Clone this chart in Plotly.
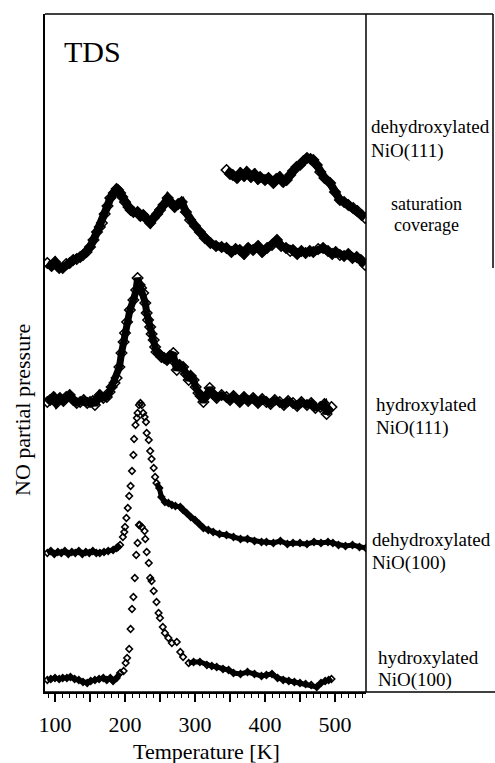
import plotly.graph_objects as go

# ---------------- data ----------------
# Temperature [K] and NO partial pressure (arb. units, curves offset as drawn)
temp_dehyd111 = [345, 350, 354, 360, 365, 370, 374, 380, 385, 390,
                 393, 400, 405, 412, 416, 421, 426, 431, 436, 440,
                 445, 450, 455, 460, 465, 469, 474, 479, 485, 493,
                 500, 507, 513, 519, 526, 532, 538, 543]
no_dehyd111 = [522, 518, 517, 514, 519, 516, 520, 515, 518, 513,
               515, 512, 514, 509, 513, 515, 510, 512, 517, 521,
               525, 527, 531, 534, 533, 532, 527, 520, 514, 509,
               500, 492, 490, 487, 484, 481, 477, 474]

temp_saturation = [89, 95, 100, 106, 111, 116, 121, 126, 131, 136,
                   140, 145, 150, 155, 160, 164, 167, 171, 175, 179,
                   184, 188, 190, 193, 196, 200, 205, 208, 212, 218,
                   222, 226, 231, 236, 241, 246, 250, 255, 261, 266,
                   271, 276, 281, 287, 293, 300, 307, 314, 322, 330,
                   338, 345, 352, 358, 364, 370, 376, 383, 390, 396,
                   403, 410, 417, 423, 430, 436, 440, 446, 452, 458,
                   464, 469, 476, 483, 490, 496, 501, 507, 513, 519,
                   525, 531, 537, 543]
no_saturation = [429, 426, 430, 424, 424, 428, 429, 432, 433, 435,
                 437, 440, 445, 452, 460, 465, 469, 478, 486, 494,
                 499, 503, 502, 499, 495, 490, 485, 482, 480, 480,
                 476, 477, 473, 469, 474, 478, 482, 487, 494, 489,
                 485, 488, 490, 480, 472, 466, 460, 454, 449, 446,
                 445, 444, 440, 443, 442, 438, 444, 442, 446, 440,
                 444, 447, 452, 446, 444, 441, 442, 438, 441, 439,
                 441, 440, 443, 444, 441, 438, 440, 437, 436, 438,
                 434, 435, 432, 427]

temp_hyd111 = [89, 93, 98, 102, 107, 112, 116, 121, 126, 131,
               136, 141, 146, 150, 154, 157, 161, 164, 169, 174,
               178, 181, 185, 188, 192, 195, 198, 200, 203, 207,
               212, 216, 218, 221, 223, 226, 229, 231, 233, 236,
               238, 241, 243, 245, 249, 252, 256, 260, 264, 269,
               271, 274, 278, 283, 287, 291, 294, 298, 301, 305,
               308, 312, 316, 321, 326, 331, 338, 345, 350, 355,
               364, 370, 376, 383, 390, 396, 402, 408, 414, 421,
               427, 433, 440, 446, 452, 460, 466, 472, 479, 485,
               488, 490, 495]
no_hyd111 = [290, 292, 295, 289, 294, 291, 295, 297, 292, 289,
             290, 292, 289, 290, 291, 287, 293, 297, 294, 295,
             300, 305, 309, 314, 325, 339, 350, 359, 370, 382,
             392, 402, 414, 407, 404, 399, 389, 379, 372, 365,
             358, 352, 345, 340, 338, 335, 334, 332, 336, 339,
             330, 322, 327, 325, 318, 312, 316, 312, 305, 299,
             296, 290, 296, 304, 298, 294, 297, 295, 292, 296,
             290, 295, 291, 294, 289, 293, 290, 288, 292, 290,
             287, 291, 289, 286, 290, 287, 289, 284, 285, 288,
             278, 282, 285]

temp_dehyd100 = [89, 94, 99, 104, 109, 114, 119, 124, 129, 134,
                 139, 144, 149, 154, 159, 164, 170, 176, 183, 188,
                 190, 193, 197, 199, 200, 202, 204, 206, 208, 210,
                 212, 213, 215, 217, 218, 220, 222, 224, 226, 228,
                 230, 231, 234, 236, 238, 241, 243, 245, 249, 252,
                 257, 262, 267, 272, 279, 283, 288, 294, 300, 306,
                 312, 319, 326, 335, 345, 355, 365, 375, 385, 395,
                 402, 412, 422, 432, 440, 450, 460, 470, 480, 490,
                 497, 505, 515, 525, 535, 544]
no_dehyd100 = [139, 141, 138, 140, 139, 141, 138, 140, 139, 141,
               138, 140, 139, 141, 139, 139, 140, 141, 142, 144,
               145, 147, 155, 160, 165, 174, 184, 196, 206, 221,
               237, 253, 267, 274, 279, 287, 289, 287, 279, 275,
               270, 259, 252, 241, 233, 224, 215, 209, 204, 195,
               190, 189, 187, 186, 185, 182, 179, 175, 172, 168,
               164, 162, 160, 158, 157, 155, 153, 153, 151, 150,
               150, 149, 151, 148, 149, 149, 148, 150, 149, 150,
               149, 147, 146, 147, 145, 144]

temp_hyd100 = [89, 94, 100, 106, 111, 117, 122, 128, 134, 140,
               146, 151, 157, 163, 169, 174, 179, 183, 188, 193,
               198, 201, 203, 206, 208, 210, 212, 214, 216, 218,
               220, 221, 224, 228, 229, 231, 234, 236, 238, 241,
               245, 248, 250, 254, 257, 262, 267, 274, 279, 283,
               291, 298, 307, 317, 324, 331, 340, 348, 355, 365,
               375, 385, 395, 402, 410, 418, 426, 434, 442, 450,
               458, 466, 474, 480, 486, 491, 495]
no_hyd100 = [12, 13, 14, 13, 14, 14, 15, 13, 12, 10,
             9, 11, 12, 13, 14, 12, 14, 11, 14, 19,
             21, 29, 34, 43, 63, 83, 95, 114, 137, 149,
             167, 167, 165, 161, 153, 140, 129, 114, 111, 101,
             90, 79, 74, 65, 59, 54, 49, 50, 40, 35,
             29, 30, 30, 27, 26, 25, 23, 22, 19, 18,
             20, 18, 16, 17, 18, 14, 12, 11, 10, 9,
             8, 7, 5, 9, 11, 12, 13]

x_major_ticks = [100, 150, 200, 250, 300, 350, 400, 450, 500]
x_major_labels = ["100", "", "200", "", "300", "", "400", "", "500"]

# ---------------- layout helpers ----------------
W, H = 495, 763
PL, PR, PT, PB = 45, 366, 14, 692
X_RANGE = [85.7, 544.3]
Y_RANGE = [0, 678]
SERIF = "Liberation Serif"


def px(xp):
    return (xp - PL) / (PR - PL)


def py(yp):
    return (PB - yp) / (PB - PT)


fig = go.Figure()


def add_curve(t, v, line_w, line_ok, msize):
    # dense band drawn as a thick line where the data are noisy/dense
    yl = [val if line_ok(tt) else None for tt, val in zip(t, v)]
    fig.add_trace(go.Scatter(x=t, y=yl, mode="lines", connectgaps=False,
                             line=dict(color="black", width=line_w),
                             hoverinfo="skip", showlegend=False))
    fig.add_trace(go.Scatter(x=t, y=v, mode="markers",
                             marker=dict(symbol="diamond-open", size=msize,
                                         color="black",
                                         line=dict(color="black", width=1.6)),
                             showlegend=False))


add_curve(temp_dehyd111, no_dehyd111, 8, lambda t: True, 8)
add_curve(temp_saturation, no_saturation, 8, lambda t: True, 8)
add_curve(temp_hyd111, no_hyd111, 7, lambda t: True, 8)
add_curve(temp_dehyd100, no_dehyd100, 5, lambda t: t <= 193 or t >= 245, 5)
add_curve(temp_hyd100, no_hyd100, 5, lambda t: t <= 193 or t >= 288, 5)

line_style = dict(color="black", width=1.5)
shapes = [
    dict(type="line", xref="paper", yref="paper", x0=0, x1=px(493), y0=1, y1=1, line=line_style),
    dict(type="line", xref="paper", yref="paper", x0=px(493), x1=px(493), y0=1, y1=py(268), line=line_style),
    dict(type="line", xref="paper", yref="paper", x0=1, x1=1, y0=0, y1=1, line=line_style),
    dict(type="line", xref="paper", yref="paper", x0=0, x1=px(495), y0=0, y1=0, line=line_style),
]


def ann(text, xp, yp, size, xanchor="left"):
    return dict(text=text, x=px(xp), y=py(yp), xref="paper", yref="paper",
                xanchor=xanchor, yanchor="middle", showarrow=False,
                font=dict(family=SERIF, size=size, color="black"))


annotations = [
    ann("TDS", 62, 51, 30),
    ann("dehydroxylated", 369, 127, 19),
    ann("NiO(111)", 369, 151, 19),
    ann("saturation", 427, 204, 18, "center"),
    ann("coverage", 427, 225, 18, "center"),
    ann("hydroxylated", 374, 404, 19),
    ann("NiO(111)", 374, 428, 19),
    ann("dehydroxylated", 370, 539, 19),
    ann("NiO(100)", 370, 563, 19),
    ann("hydroxylated", 376, 657, 19),
    ann("NiO(100)", 376, 680, 19),
    ann("Temperature [K]", 207, 751, 22, "center"),
    dict(text="NO partial pressure", x=px(22), y=py(410), xref="paper", yref="paper",
         xanchor="center", yanchor="middle", showarrow=False, textangle=-90,
         font=dict(family=SERIF, size=22, color="black")),
]

fig.update_layout(
    width=W, height=H,
    margin=dict(l=PL, r=W - PR, t=PT, b=H - PB, pad=0),
    paper_bgcolor="white", plot_bgcolor="white",
    showlegend=False,
    shapes=shapes,
    annotations=annotations,
    xaxis=dict(range=X_RANGE, showgrid=False, zeroline=False,
               showline=True, linecolor="black", linewidth=1.5,
               ticks="outside", tickvals=x_major_ticks, ticktext=x_major_labels,
               ticklen=8, tickwidth=1.5, tickcolor="black",
               ticklabelstandoff=4,
               minor=dict(dtick=10, tick0=0, ticks="outside", ticklen=4,
                          tickwidth=1, tickcolor="black", showgrid=False),
               tickfont=dict(family=SERIF, size=22, color="black")),
    yaxis=dict(range=Y_RANGE, showgrid=False, zeroline=False,
               showline=True, linecolor="black", linewidth=1.5,
               showticklabels=False, ticks=""),
)

fig.write_html("out.html")
